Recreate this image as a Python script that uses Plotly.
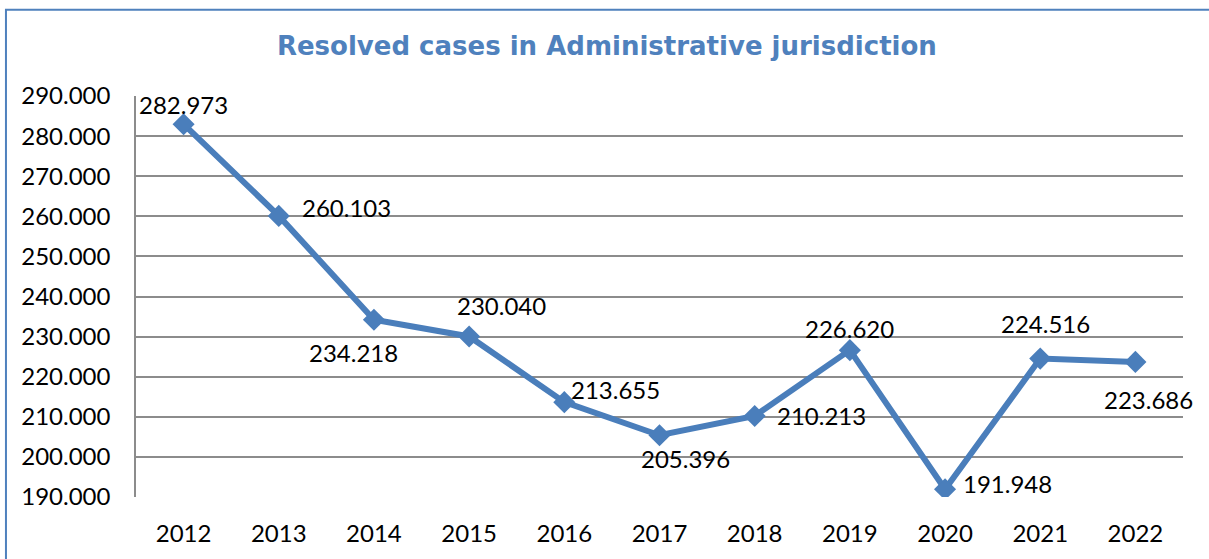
import plotly.graph_objects as go

years = ["2012", "2013", "2014", "2015", "2016", "2017", "2018", "2019", "2020", "2021", "2022"]
resolved = [282973, 260103, 234218, 230040, 213655, 205396, 210213, 226620, 191948, 224516, 223686]
y_ticks = [190000, 200000, 210000, 220000, 230000, 240000, 250000, 260000, 270000, 280000, 290000]

# label offsets in pixels (dx, dy up)
label_offsets = [(0, 20), (68, 8), (-20, -33), (32, 31), (51, 13), (26, -23),
                 (67, 0), (0, 22), (62, 6), (5, 35), (13, -38)]

blue = "#4A7EBB"
grid = "#8C8C8C"

fig = go.Figure()
fig.add_trace(
    go.Scatter(
        x=years,
        y=resolved,
        mode="lines+markers",
        line=dict(color=blue, width=6),
        marker=dict(symbol="diamond", size=17, color=blue),
        hoverinfo="x+y",
    )
)

# category axis -> annotations need the index, not the label
for i, val in enumerate(resolved):
    dx, dy = label_offsets[i]
    fig.add_annotation(
        x=i,
        y=val,
        text=f"{val:,}".replace(",", "."),
        showarrow=False,
        xshift=dx,
        yshift=dy,
        font=dict(family="Lato", size=24, color="black"),
    )

# outer chart frame
fig.add_shape(
    type="rect", xref="paper", yref="paper",
    x0=-0.1242, x1=1.04, y0=-0.2, y1=1.2153,
    line=dict(color="#4F81BD", width=2),
)

fig.update_layout(
    width=1209,
    height=559,
    margin=dict(l=136, r=26, t=96, b=57),
    paper_bgcolor="white",
    plot_bgcolor="white",
    showlegend=False,
    separators=",.",
    title=dict(
        text="<b>Resolved cases in Administrative jurisdiction</b>",
        x=0.502, xanchor="center", y=0.918, yanchor="middle",
        font=dict(family="DejaVu Sans", size=26, color="#4F81BD"),
    ),
    font=dict(family="Lato", size=24, color="black"),
)
fig.update_xaxes(
    type="category",
    range=[-0.5, 10.5],
    showgrid=False,
    showline=False,
    ticks="",
    ticklabelstandoff=20,
    tickfont=dict(family="Lato", size=24, color="black"),
)
fig.update_yaxes(
    range=[190000, 290000],
    tickvals=y_ticks,
    tickformat=",d",
    showgrid=True,
    gridcolor=grid,
    gridwidth=1.5,
    showline=True,
    linecolor=grid,
    linewidth=1.5,
    zeroline=False,
    ticks="",
    ticklabelstandoff=19,
    tickfont=dict(family="Lato", size=24, color="black"),
)

# drop the default 8px body margin so the figure sits at the window origin
fig.write_html(
    "out.html",
    config={"displayModeBar": False},
    post_script="document.body.style.margin='0';",
)
